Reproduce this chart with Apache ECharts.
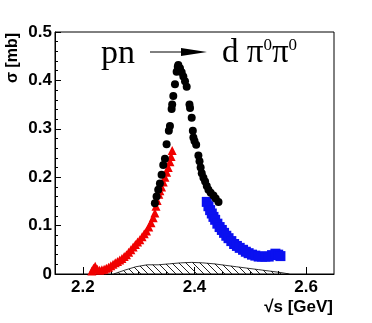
<!DOCTYPE html>
<html><head><meta charset="utf-8">
<script src="https://cdn.jsdelivr.net/npm/echarts@6/dist/echarts.min.js"></script>
<style>html,body{margin:0;padding:0;background:#fff}#c{width:372px;height:323px}</style>
</head><body><div id="c"></div>
<script>
// ---- data ----
const xTicks = [2.2, 2.4, 2.6];
const xMinorTicks = [2.25, 2.3, 2.35, 2.45, 2.5, 2.55];
const yTicks = [0, 0.1, 0.2, 0.3, 0.4, 0.5];

const blackX = [2.329,2.332,2.335,2.338,2.341,2.344,2.347,2.350,2.354,2.356,2.359,2.360,2.362,2.365,2.368,2.370,2.371,
                2.374,2.377,2.380,2.383,2.386,2.391,2.392,2.395,2.397,2.398,2.400,2.403,2.407,2.409,2.411,2.413,2.416,2.419,2.422,2.425,2.429,2.434,2.438,2.443];
const blackY = [0.146,0.160,0.174,0.187,0.205,0.225,0.238,0.268,0.296,0.306,0.341,0.350,0.368,0.392,0.418,0.428,0.432,
                0.425,0.417,0.408,0.398,0.387,0.350,0.343,0.323,0.296,0.282,0.275,0.267,0.245,0.233,0.220,0.208,0.199,0.191,0.182,0.174,0.168,0.162,0.156,0.149];

const redX = [2.216,2.219,2.222,2.226,2.230,2.234,2.238,2.242,2.246,2.250,2.254,2.258,2.262,2.266,2.270,2.274,2.278,2.282,2.286,2.290,
              2.294,2.298,2.302,2.306,2.310,2.314,2.318,2.322,2.326,2.329,2.331,2.333,2.336,2.338,2.341,2.344,2.347,2.350,2.353,2.356,2.358,2.360];
const redY = [0.006,0.012,0.016,0.010,0.008,0.009,0.010,0.012,0.014,0.017,0.020,0.023,0.026,0.029,0.032,0.036,0.040,0.045,0.050,0.056,
              0.061,0.066,0.071,0.077,0.083,0.089,0.097,0.106,0.116,0.126,0.140,0.152,0.165,0.172,0.180,0.190,0.200,0.210,0.220,0.232,0.243,0.255];

const blueX = [2.422,2.425,2.428,2.431,2.434,2.437,2.441,2.445,2.449,2.453,2.457,2.461,2.466,2.471,2.476,2.481,2.487,2.492,2.497,
               2.503,2.509,2.515,2.521,2.527,2.533,2.539,2.545,2.550,2.554];
const blueY = [0.149,0.140,0.132,0.125,0.118,0.112,0.104,0.097,0.091,0.085,0.079,0.074,0.068,0.062,0.058,0.054,0.050,0.046,0.043,
               0.040,0.038,0.036,0.036,0.036,0.036,0.039,0.042,0.040,0.037];

const systX = [2.255,2.275,2.295,2.315,2.335,2.355,2.375,2.395,2.415,2.435,2.455,2.475,2.495,2.515,2.535,2.555,2.570];
const systY = [0.000,0.008,0.015,0.019,0.019,0.021,0.023,0.024,0.023,0.021,0.018,0.015,0.012,0.009,0.006,0.003,0.000];

const zip = (xs, ys) => xs.map((x, i) => [x, ys[i]]);

// hatch pattern
const pat = document.createElement('canvas');
pat.width = 7; pat.height = 7;
const pc = pat.getContext('2d');
pc.strokeStyle = '#222'; pc.lineWidth = 1;
pc.beginPath(); pc.moveTo(-1,-1); pc.lineTo(8,8); pc.stroke();

const chart = echarts.init(document.getElementById('c'), null, {renderer: 'canvas'});
const labelFont = {fontFamily: 'Liberation Sans', fontWeight: 'bold', fontSize: 17, color: '#000'};

chart.setOption({
  animation: false,
  backgroundColor: '#fff',
  grid: {left: 55, top: 32, right: 38, bottom: 49, show: true, borderColor: '#000', borderWidth: 1, containLabel: false},
  xAxis: [{
    type: 'value', min: 2.15, max: 2.65,
    axisLine: {lineStyle: {color: '#000', width: 1}},
    axisTick: {inside: true, length: 7, customValues: xTicks, lineStyle: {color: '#000'}},
    axisLabel: Object.assign({customValues: xTicks, margin: 5, formatter: v => v.toFixed(1)}, labelFont),
    splitLine: {show: false}
  }, {
    type: 'value', min: 2.15, max: 2.65, position: 'bottom',
    axisLine: {show: false},
    axisTick: {inside: true, length: 3, customValues: xMinorTicks, lineStyle: {color: '#000'}},
    axisLabel: {show: false},
    splitLine: {show: false}
  }],
  yAxis: {
    type: 'value', min: 0, max: 0.5, interval: 0.1,
    axisLine: {show: true, lineStyle: {color: '#000', width: 1}},
    axisTick: {show: true, inside: true, length: 6, lineStyle: {color: '#000'}},
    minorTick: {show: true, splitNumber: 5, length: 3, lineStyle: {color: '#000'}},
    axisLabel: Object.assign({margin: 3, formatter: v => (v === 0 ? '0' : v.toFixed(1))}, labelFont),
    splitLine: {show: false}
  },
  title: [
    {text: 'pn', left: 101, top: 37, padding: 0,
     textStyle: {fontFamily: 'Liberation Serif', fontSize: 34, fontWeight: 'normal', color: '#000'}},
    {text: 'd π{s|0}π{s|0}', left: 222, top: 37, padding: 0,
     textStyle: {fontFamily: 'Liberation Serif', fontSize: 33, fontWeight: 'normal', color: '#000',
       rich: {s: {fontFamily: 'Liberation Serif', fontSize: 17, color: '#000', verticalAlign: 'top', padding: [0,0,12,0]}}}}
  ],
  graphic: [
    {type: 'line', shape: {x1: 150, y1: 52, x2: 186, y2: 52}, style: {stroke: '#000', lineWidth: 1}},
    {type: 'polygon', shape: {points: [[181, 48], [207, 52], [181, 56]]}, style: {fill: '#000'}},
    {type: 'text', x: 13, y: 58, rotation: Math.PI / 2,
     style: {text: 'σ [mb]', fontFamily: 'Liberation Sans', fontWeight: 'bold', fontSize: 16, fill: '#000', align: 'center', verticalAlign: 'middle'}},
    {type: 'text', x: 333, y: 307,
     style: {text: '√s [GeV]', fontFamily: 'Liberation Sans', fontWeight: 'bold', fontSize: 17, fill: '#000', align: 'right', verticalAlign: 'middle'}}
  ],
  series: [
    {type: 'line', data: zip(systX, systY), symbol: 'none', z: 1,
     lineStyle: {color: '#000', width: 0.8},
     areaStyle: {color: {image: pat, repeat: 'repeat'}, opacity: 1}},
    {type: 'scatter', data: zip(blueX, blueY), symbol: 'rect', symbolSize: 10, z: 2, itemStyle: {color: '#0a10f0', opacity: 1}},
    {type: 'scatter', data: zip(redX, redY), symbol: 'triangle', symbolSize: 9, z: 3, itemStyle: {color: '#f00000', opacity: 1}},
    {type: 'scatter', data: zip(blackX, blackY), symbol: 'circle', symbolSize: 8, z: 4, itemStyle: {color: '#000', opacity: 1}}
  ]
});
</script></body></html>
